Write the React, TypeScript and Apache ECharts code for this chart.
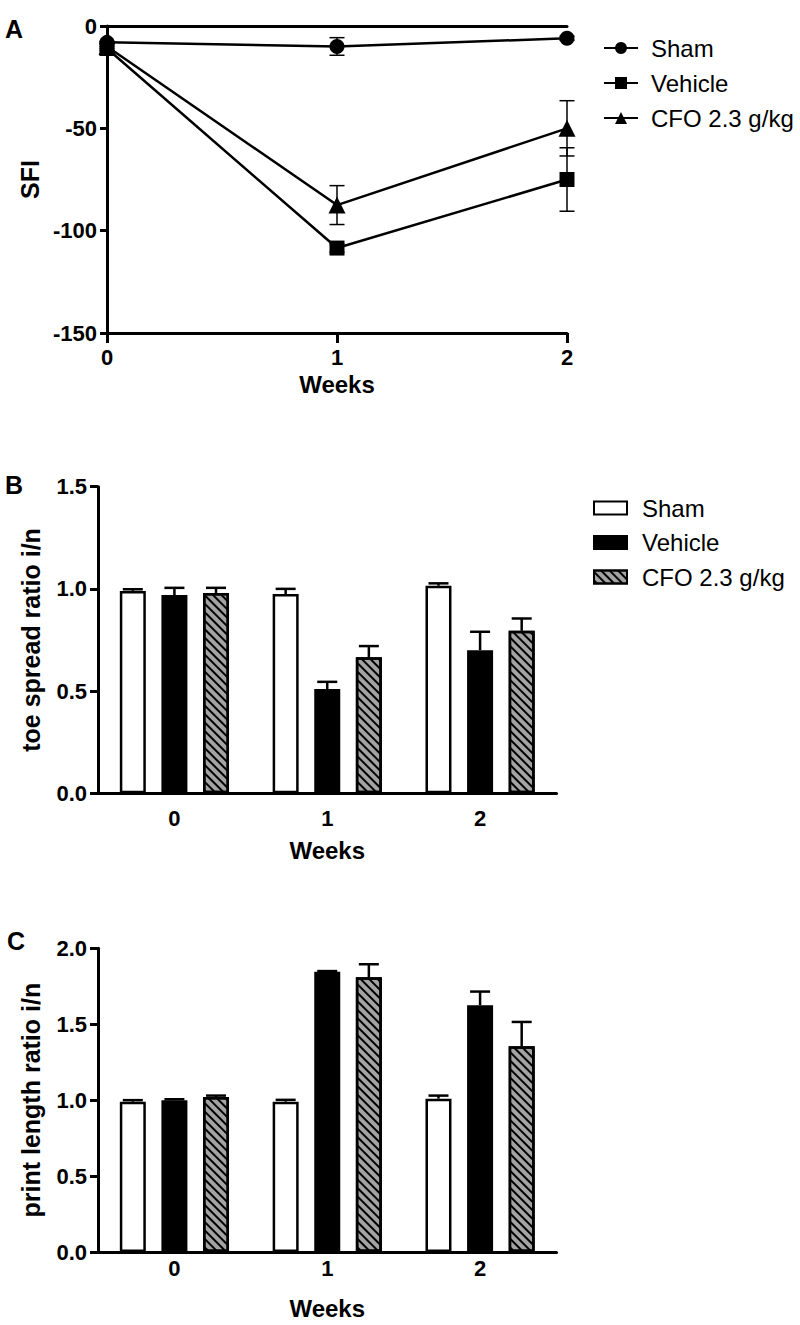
import React, { useEffect, useRef } from "react";
import * as echarts from "echarts";

// ---------- DATA ----------
const groups = ["Sham", "Vehicle", "CFO 2.3 g/kg"];
const weeks = ["0", "1", "2"];

// Panel A: SFI (mean, SEM) at weeks 0,1,2
const sfiSham = [-8, -10, -6];
const sfiShamSem = [0.5, 4.3, 1];
const sfiVehicle = [-11, -108.5, -75];
const sfiVehicleSem = [1, 2, 15.5];
const sfiCfo = [-10, -87.5, -50];
const sfiCfoSem = [1, 9.5, 13.5];

// Panel B: toe spread ratio i/n
const toeSham = [0.99, 0.975, 1.015];
const toeShamSem = [0.008, 0.025, 0.012];
const toeVehicle = [0.97, 0.51, 0.7];
const toeVehicleSem = [0.035, 0.035, 0.09];
const toeCfo = [0.98, 0.665, 0.795];
const toeCfoSem = [0.025, 0.055, 0.06];

// Panel C: print length ratio i/n
const plSham = [0.99, 0.99, 1.01];
const plShamSem = [0.01, 0.012, 0.02];
const plVehicle = [1.0, 1.845, 1.625];
const plVehicleSem = [0.006, 0.005, 0.09];
const plCfo = [1.02, 1.81, 1.355];
const plCfoSem = [0.01, 0.085, 0.16];

// ---------- STYLE ----------
const FONT = "'Liberation Sans', Arial, Helvetica, sans-serif";
const AXIS_W = 3;
const BAR_W = 26;
const BAR_GAP = 0.6;
const HATCH_GRAY = "#a3a3a3";

const boldLabel = (size: number) => ({
  fontFamily: FONT,
  fontWeight: "bold" as const,
  fontSize: size,
  color: "#000",
});

function panelLetter(letter: string, x: number, y: number) {
  return {
    type: "text",
    left: x,
    top: y,
    style: {
      text: letter,
      font: `bold 25px ${FONT}`,
      fill: "#000",
    },
  };
}

function lineOption() {
  const series: any[] = [];
  const sets = [
    { name: groups[0], vals: sfiSham, sem: sfiShamSem, symbol: "circle", size: 15 },
    { name: groups[1], vals: sfiVehicle, sem: sfiVehicleSem, symbol: "rect", size: 15 },
    { name: groups[2], vals: sfiCfo, sem: sfiCfoSem, symbol: "triangle", size: 17 },
  ];
  sets.forEach((s) => {
    series.push({
      type: "custom",
      xAxisIndex: 0,
      yAxisIndex: 0,
      z: 1,
      silent: true,
      data: s.vals.map((v, i) => [i, v, s.sem[i]]),
      renderItem: (params: any, api: any) => {
        const x = api.value(0);
        const m = api.value(1);
        const e = api.value(2);
        const lo = api.coord([x, m - e]);
        const hi = api.coord([x, m + e]);
        const st = { stroke: "#000", lineWidth: 1.5 };
        return {
          type: "group",
          children: [
            { type: "line", shape: { x1: lo[0], y1: lo[1], x2: hi[0], y2: hi[1] }, style: st },
            { type: "line", shape: { x1: lo[0] - 7.5, y1: lo[1], x2: lo[0] + 7.5, y2: lo[1] }, style: st },
            { type: "line", shape: { x1: hi[0] - 7.5, y1: hi[1], x2: hi[0] + 7.5, y2: hi[1] }, style: st },
          ],
        };
      },
    });
    series.push({
      type: "line",
      name: s.name,
      xAxisIndex: 0,
      yAxisIndex: 0,
      z: 3,
      data: s.vals.map((v, i) => [i, v]),
      symbol: s.symbol,
      symbolSize: s.size,
      showSymbol: true,
      itemStyle: { color: "#000" },
      lineStyle: { color: "#000", width: 2.5 },
    });
  });

  return {
    animation: false,
    textStyle: { fontFamily: FONT },
    grid: { left: 107, top: 26, width: 460, height: 307, containLabel: false },
    legend: {
      orient: "vertical",
      left: 598,
      top: 31,
      itemWidth: 34,
      itemHeight: 15,
      itemGap: 11,
      data: groups,
      textStyle: { fontFamily: FONT, fontSize: 24, lineHeight: 24, color: "#000", padding: [0, 0, 0, 8] },
    },
    xAxis: [
      {
        type: "value",
        min: 0,
        max: 2,
        interval: 1,
        position: "bottom",
        axisLine: { onZero: false, lineStyle: { color: "#000", width: AXIS_W } },
        axisTick: { length: 10, lineStyle: { color: "#000", width: AXIS_W } },
        axisLabel: { ...boldLabel(22), margin: 13 },
        splitLine: { show: false },
        name: "Weeks",
        nameLocation: "middle",
        nameGap: 35,
        nameTextStyle: boldLabel(24),
      },
      {
        type: "value",
        min: 0,
        max: 2,
        position: "top",
        axisLine: { show: true, onZero: false, lineStyle: { color: "#000", width: AXIS_W } },
        axisTick: { show: false },
        axisLabel: { show: false },
        splitLine: { show: false },
      },
    ],
    yAxis: {
      type: "value",
      min: -150,
      max: 0,
      interval: 50,
      axisLine: { show: true, onZero: false, lineStyle: { color: "#000", width: AXIS_W } },
      axisTick: { show: true, length: 7, lineStyle: { color: "#000", width: AXIS_W } },
      axisLabel: { ...boldLabel(22), margin: 10 },
      splitLine: { show: false },
      name: "SFI",
      nameLocation: "middle",
      nameGap: 62,
      nameTextStyle: boldLabel(25),
    },
    graphic: [panelLetter("A", 5, 16)],
    series,
  };
}

function barOption(
  letter: string,
  letterTop: number,
  gridTop: number,
  yMax: number,
  yName: string,
  values: number[][],
  sems: number[][],
  xLabelMargin: number,
  xNameGap: number,
  legendTop: number | null
) {
  const styles: any[] = [
    { color: "#fff", borderColor: "#000", borderWidth: 2.5 },
    { color: "#000", borderColor: "#000", borderWidth: 2.5 },
    {
      color: HATCH_GRAY,
      borderColor: "#000",
      borderWidth: 2.5,
      decal: {
        symbol: "rect",
        symbolSize: 1,
        dashArrayX: [1, 0],
        dashArrayY: [1.5, 3.2],
        rotation: Math.PI / 4,
        color: "#000",
      },
    },
  ];
  const series: any[] = [];
  groups.forEach((g, k) => {
    series.push({
      type: "bar",
      name: g,
      barWidth: BAR_W,
      barGap: `${BAR_GAP * 100}%`,
      z: 2,
      data: values[k],
      itemStyle: styles[k],
    });
  });
  groups.forEach((g, k) => {
    series.push({
      type: "custom",
      silent: true,
      z: 1,
      data: values[k].map((v, i) => [i, v, sems[k][i]]),
      renderItem: (params: any, api: any) => {
        const c = api.value(0);
        const m = api.value(1);
        const e = api.value(2);
        const base = api.coord([c, m]);
        const top = api.coord([c, m + e]);
        const x = base[0] + (k - 1) * BAR_W * (1 + BAR_GAP);
        const st = { stroke: "#000", lineWidth: 2.5 };
        return {
          type: "group",
          children: [
            { type: "line", shape: { x1: x, y1: base[1], x2: x, y2: top[1] }, style: st },
            { type: "line", shape: { x1: x - 10, y1: top[1], x2: x + 10, y2: top[1] }, style: st },
          ],
        };
      },
    });
  });

  const opt: any = {
    animation: false,
    textStyle: { fontFamily: FONT },
    grid: { left: 98, top: gridTop, width: 458.5, height: 306.5, containLabel: false },
    xAxis: {
      type: "category",
      data: weeks,
      axisLine: { lineStyle: { color: "#000", width: AXIS_W } },
      axisTick: { alignWithLabel: true, length: 9, lineStyle: { color: "#000", width: AXIS_W } },
      axisLabel: { ...boldLabel(22), margin: xLabelMargin },
      name: "Weeks",
      nameLocation: "middle",
      nameGap: xNameGap,
      nameTextStyle: boldLabel(24),
    },
    yAxis: {
      type: "value",
      min: 0,
      max: yMax,
      interval: 0.5,
      axisLine: { show: true, lineStyle: { color: "#000", width: AXIS_W } },
      axisTick: { show: true, length: 8, lineStyle: { color: "#000", width: AXIS_W } },
      axisLabel: { ...boldLabel(22), margin: 11, formatter: (v: number) => v.toFixed(1) },
      splitLine: { show: false },
      name: yName,
      nameLocation: "middle",
      nameGap: 55,
      nameTextStyle: boldLabel(25),
    },
    graphic: [panelLetter(letter, letter === "C" ? 7 : 5, letterTop)],
    series,
  };
  if (legendTop !== null) {
    opt.legend = {
      orient: "vertical",
      left: 588,
      top: legendTop,
      icon: "rect",
      itemWidth: 33,
      itemHeight: 13,
      itemGap: 10.5,
      data: groups,
      textStyle: { fontFamily: FONT, fontSize: 24, lineHeight: 24, color: "#000", padding: [0, 0, 0, 10] },
    };
  }
  return opt;
}

function Chart({ option, top, height }: { option: any; top: number; height: number }) {
  const ref = useRef<HTMLDivElement>(null);
  useEffect(() => {
    if (!ref.current) return;
    const chart = echarts.init(ref.current, undefined, { renderer: "svg" });
    chart.setOption(option);
    return () => chart.dispose();
  }, [option]);
  return (
    <div
      ref={ref}
      style={{ position: "absolute", left: 0, top, width: 800, height }}
    />
  );
}

const optA = lineOption();
const optB = barOption(
  "B",
  32,
  46.7,
  1.5,
  "toe spread ratio i/n",
  [toeSham, toeVehicle, toeCfo],
  [toeShamSem, toeVehicleSem, toeCfoSem],
  14,
  45,
  51
);
const optC = barOption(
  "C",
  48,
  68.3,
  2.0,
  "print length ratio i/n",
  [plSham, plVehicle, plCfo],
  [plShamSem, plVehicleSem, plCfoSem],
  5,
  44,
  null
);

export default function App() {
  return (
    <div style={{ position: "absolute", left: 0, top: 0, width: 800, height: 1325, background: "#fff" }}>
      <Chart option={optA} top={0} height={440} />
      <Chart option={optB} top={440} height={440} />
      <Chart option={optC} top={880} height={445} />
    </div>
  );
}
